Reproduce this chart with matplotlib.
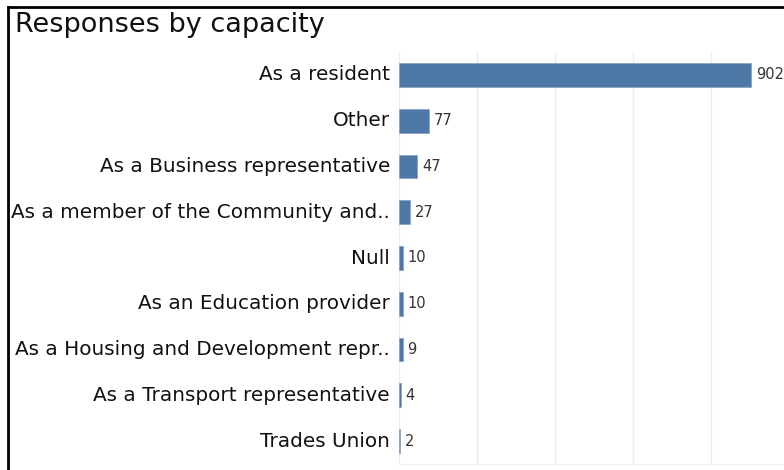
import matplotlib
matplotlib.use('agg')
from matplotlib import pyplot as plt

categories = ['As a resident', 'Other', 'As a Business representative',
              'As a member of the Community and..', 'Null', 'As an Education provider',
              'As a Housing and Development repr..', 'As a Transport representative',
              'Trades Union']
responses = [902, 77, 47, 27, 10, 10, 9, 4, 2]

plt.rcParams['font.family'] = ['DejaVu Sans']

fig = plt.figure(figsize=(7.84, 4.70), dpi=100)
ax = fig.add_axes([399 / 784, 6 / 470, 1 - 399 / 784, 412 / 470])

ypos = list(range(len(categories)))
ax.barh(ypos, responses, height=0.52, color='#4e79a7', edgecolor='#8aa6c4', linewidth=0.6, zorder=3)
for y, v in zip(ypos, responses):
    ax.annotate(str(v), (v, y), xytext=(3.5, 0), textcoords='offset points',
                va='center', ha='left', fontsize=10.5, color='#333333')

ax.set_ylim(len(categories) - 0.5, -0.5)
ax.set_xlim(0, 986)
ax.set_yticks(ypos)
ax.set_yticklabels(categories, fontsize=14.4, color='#111111', va='center')
ax.set_xticks([0, 200, 400, 600, 800])
ax.tick_params(axis='x', bottom=False, labelbottom=False)
ax.tick_params(axis='y', length=0, pad=6.5)
ax.grid(axis='x', color='#ececec', linewidth=1, zorder=0)
for s in ['top', 'right', 'left']:
    ax.spines[s].set_visible(False)
ax.spines['bottom'].set_color('#eeeeee')

# frame lines at top and left of the picture
fig.add_artist(plt.Line2D([8 / 784, 1], [1 - 7 / 470, 1 - 7 / 470], color='black', linewidth=2))
fig.add_artist(plt.Line2D([8 / 784, 8 / 784], [0, 1 - 7 / 470], color='black', linewidth=2))

fig.text(15 / 784, 1 - 25 / 470, 'Responses by capacity', fontsize=19.5, va='center', ha='left', color='#111111')

fig.savefig('out.png', dpi=100)
